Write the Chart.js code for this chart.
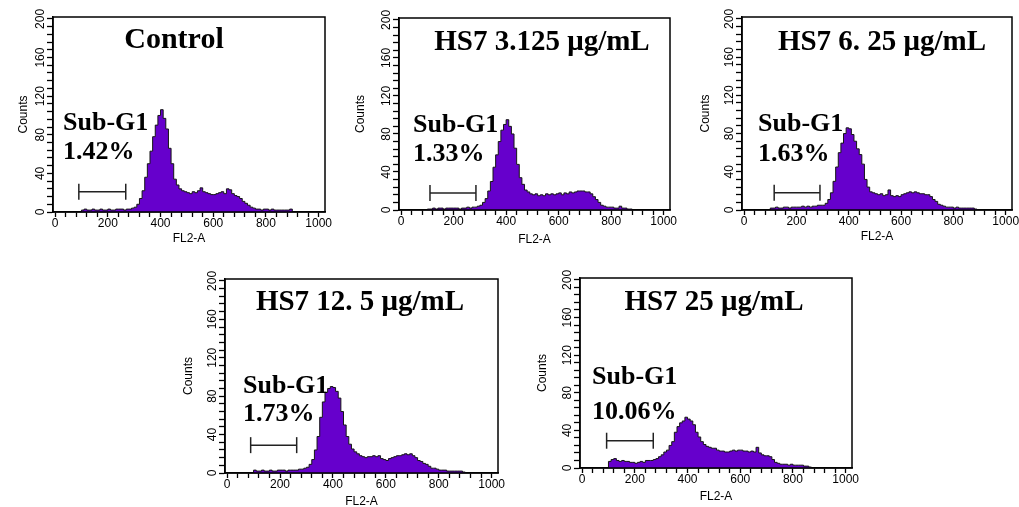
<!DOCTYPE html>
<html>
<head>
<meta charset="utf-8">
<script src="https://cdn.jsdelivr.net/npm/chart.js@4.4.1/dist/chart.umd.min.js"></script>
<style>
  html, body { margin: 0; padding: 0; background: #fff; }
  body { position: relative; width: 1019px; height: 507px; overflow: hidden; }
  canvas { position: absolute; }
  .label {
    position: absolute;
    font-family: "Liberation Serif", "Times New Roman", serif;
    font-weight: bold;
    color: #000;
    line-height: 1;
    white-space: nowrap;
  }
</style>
</head>
<body>
<script>
// FL2-A histogram bins: one bin per 10 channels, starting at 0
const binWidth = 10;

const controlCounts = [
  0, 0, 0, 0, 0, 0, 0, 0, 0, 0,
  2, 3, 2, 2, 3, 2, 2, 3, 2, 2,
  3, 2, 2, 3, 3, 3, 2, 3, 3, 4,
  5, 8, 14, 22, 36, 50, 63, 78, 90, 100,
  106, 97, 86, 66, 50, 34, 28, 24, 22, 21,
  20, 19, 21, 20, 22, 25, 21, 20, 19, 18,
  18, 19, 20, 21, 19, 24, 23, 19, 17, 16,
  14, 11, 9, 7, 5, 4, 3, 3, 2, 3,
  3, 2, 3, 2, 2, 2, 2, 2, 2, 3,
  0, 0, 0, 0, 0, 0, 0, 0, 0, 0,
  0, 0
];

const hs3125Counts = [
  0, 0, 0, 0, 0, 0, 0, 0, 0, 0,
  1, 1, 2, 1, 2, 2, 1, 2, 2, 2,
  2, 2, 1, 2, 2, 3, 2, 3, 3, 4,
  5, 8, 12, 20, 30, 45, 58, 72, 84, 90,
  95, 88, 80, 65, 48, 34, 27, 21, 19, 17,
  16, 17, 15, 16, 15, 17, 16, 17, 16, 17,
  18, 16, 18, 17, 19, 18, 19, 20, 20, 20,
  19, 19, 17, 14, 11, 8, 5, 4, 3, 3,
  3, 2, 2, 4, 2, 2, 1, 1, 0, 0,
  0, 0, 0, 0, 0, 0, 0, 0, 0, 0,
  0, 0
];

const hs625Counts = [
  0, 0, 0, 0, 0, 0, 0, 0, 0, 0,
  2, 2, 3, 2, 2, 3, 3, 2, 3, 3,
  3, 3, 4, 3, 4, 3, 4, 4, 5, 5,
  5, 7, 11, 18, 30, 45, 60, 70, 80, 86,
  85, 79, 72, 64, 58, 48, 32, 24, 19, 18,
  17, 16, 17, 15, 16, 21, 15, 14, 15, 14,
  16, 17, 18, 19, 18, 19, 18, 17, 17, 16,
  16, 14, 11, 9, 6, 5, 4, 3, 3, 3,
  2, 3, 2, 2, 2, 2, 2, 2, 1, 0,
  0, 0, 0, 0, 0, 0, 0, 0, 0, 0,
  0, 0
];

const hs125Counts = [
  0, 0, 0, 0, 0, 0, 0, 0, 0, 0,
  3, 2, 2, 3, 2, 2, 3, 2, 2, 3,
  3, 3, 2, 3, 3, 3, 3, 4, 4, 5,
  6, 9, 14, 24, 38, 58, 74, 84, 88, 90,
  89, 85, 78, 64, 50, 38, 30, 25, 22, 20,
  18, 17, 16, 17, 17, 18, 17, 18, 15, 14,
  13, 15, 16, 17, 18, 18, 19, 20, 19, 20,
  18, 16, 13, 12, 10, 9, 7, 5, 5, 4,
  3, 3, 3, 2, 2, 2, 2, 2, 2, 1,
  0, 0, 0, 0, 0, 0, 0, 0, 0, 0,
  0, 0
];

const hs25Counts = [
  0, 0, 0, 0, 0, 0, 0, 0, 0, 0,
  7, 9, 10, 8, 7, 8, 7, 7, 6, 6,
  5, 6, 7, 6, 8, 8, 8, 9, 10, 12,
  14, 17, 19, 24, 28, 38, 44, 48, 50, 54,
  52, 50, 46, 38, 33, 28, 25, 23, 22, 21,
  21, 19, 18, 18, 17, 17, 18, 19, 18, 19,
  19, 18, 18, 17, 18, 17, 22, 16, 14, 13,
  13, 12, 9, 6, 5, 4, 4, 4, 3, 4,
  3, 3, 3, 3, 2, 2, 1, 0, 0, 0,
  0, 0, 0, 0, 0, 0, 0, 0, 0, 0,
  0, 0
];

const panelCounts = [controlCounts, hs3125Counts, hs625Counts, hs125Counts, hs25Counts];
const panelTitles = ['Control', 'HS7 3.125 μg/mL', 'HS7 6. 25 μg/mL', 'HS7 12. 5 μg/mL', 'HS7 25 μg/mL'];
const subG1Percent = ['1.42%', '1.33%', '1.63%', '1.73%', '10.06%'];

// Sub-G1 gate marker (FL2-A range and height in counts)
const gateStart = [90, 110, 115, 89, 93];
const gateEnd = [268, 285, 290, 263, 270];
const gateLevel = [21, 18, 18, 29, 29];

const fl2Ticks = [0, 40, 80, 120, 160, 200, 240, 280, 320, 360, 400, 440, 480, 520, 560,
  600, 640, 680, 720, 760, 800, 840, 880, 920, 960, 1000];
const fl2Labels = [0, 200, 400, 600, 800, 1000];
const countTicks = [0, 8, 16, 24, 32, 40, 48, 56, 64, 72, 80, 88, 96, 104, 112, 120, 128,
  136, 144, 152, 160, 168, 176, 184, 192, 200];
const countLabels = [0, 40, 80, 120, 160, 200];

// page geometry: plot box [l, t, r, b], canvas [l, t, r, b], title [cx, baseline, size], sub label [x, baseline1, baseline2]
const layout = [
  { area: [53, 17, 325, 212], canvas: [16, 5, 345, 246], title: [174, 48, 30], sub: [63, 131, 160] },
  { area: [399, 18, 670, 210], canvas: [353, 6, 690, 247], title: [542, 50, 29], sub: [413, 133, 162] },
  { area: [742, 17, 1012, 210], canvas: [698, 5, 1032, 244], title: [882, 50, 29], sub: [758, 132, 162] },
  { area: [225, 279, 498, 473], canvas: [181, 267, 518, 509], title: [360, 310, 29], sub: [243, 394, 422] },
  { area: [580, 278, 852, 468], canvas: [535, 266, 872, 504], title: [714, 310, 29], sub: [592, 385, 420] }
];

const purple = '#6600cc';
const axisFont = { family: '"Liberation Sans", Arial, sans-serif', size: 12 };

// frame around the plot area (top and right sides are not axes)
const framePlugin = {
  id: 'frame',
  afterDraw(chart) {
    const { ctx, chartArea: a } = chart;
    ctx.save();
    ctx.strokeStyle = '#000';
    ctx.lineWidth = 1.5;
    ctx.strokeRect(a.left, a.top, a.right - a.left, a.bottom - a.top);
    ctx.restore();
  }
};

function addText(text, x, baseline, size, centered) {
  const el = document.createElement('div');
  el.className = 'label';
  el.textContent = text;
  el.style.fontSize = size + 'px';
  el.style.left = x + 'px';
  // Liberation Serif baseline sits at 0.8375em with line-height 1
  el.style.top = (baseline - 0.8375 * size) + 'px';
  if (centered) el.style.transform = 'translateX(-50%)';
  document.body.appendChild(el);
}

function buildPanel(i) {
  const p = layout[i];
  const [l, t, r, b] = p.area;
  const [cl, ct, cr, cb] = p.canvas;
  const yAxisWidth = l - cl;
  const xAxisHeight = cb - b;

  const canvas = document.createElement('canvas');
  canvas.width = cr - cl;
  canvas.height = cb - ct;
  canvas.style.left = cl + 'px';
  canvas.style.top = ct + 'px';
  document.body.appendChild(canvas);

  new Chart(canvas, {
    type: 'line',
    data: {
      datasets: [
        {
          data: panelCounts[i].map((c, k) => ({ x: k * binWidth, y: c })),
          stepped: 'before',
          fill: 'origin',
          backgroundColor: purple,
          borderColor: '#151515',
          borderWidth: 1,
          pointRadius: 0
        },
        {
          data: [{ x: gateStart[i], y: gateLevel[i] }, { x: gateEnd[i], y: gateLevel[i] }],
          fill: false,
          borderColor: '#222',
          borderWidth: 1.5,
          pointStyle: 'line',
          pointRotation: 90,
          pointRadius: 8,
          pointBorderWidth: 1.5,
          pointBorderColor: '#222'
        }
      ]
    },
    options: {
      responsive: false,
      animation: false,
      events: [],
      layout: { padding: { left: 0, top: t - ct, right: cr - r, bottom: 0 } },
      plugins: { legend: { display: false }, tooltip: { enabled: false } },
      scales: {
        x: {
          type: 'linear',
          min: -8,
          max: 1024,
          afterBuildTicks: s => { s.ticks = fl2Ticks.map(v => ({ value: v })); },
          afterFit: s => { s.height = xAxisHeight; s.paddingLeft = 0; s.paddingRight = 0; },
          ticks: {
            autoSkip: false,
            minRotation: 0,
            maxRotation: 0,
            padding: -1,
            color: '#000',
            font: axisFont,
            callback: v => fl2Labels.includes(v) ? String(v) : ''
          },
          grid: { drawOnChartArea: false, tickLength: 5, color: '#000', tickWidth: 1.3 },
          border: { display: true, color: '#000', width: 1.5 },
          title: { display: true, text: 'FL2-A', color: '#000', font: axisFont, padding: { top: 0, bottom: 0 } }
        },
        y: {
          min: 0,
          max: 202,
          afterBuildTicks: s => { s.ticks = countTicks.map(v => ({ value: v })); },
          afterFit: s => { s.width = yAxisWidth; s.paddingTop = 0; s.paddingBottom = 0; },
          ticks: {
            autoSkip: false,
            minRotation: 90,
            maxRotation: 90,
            crossAlign: 'center',
            padding: -4,
            color: '#000',
            font: axisFont,
            callback: v => countLabels.includes(v) ? String(v) : ''
          },
          grid: { drawOnChartArea: false, tickLength: 6, color: '#000', tickWidth: 1.3 },
          border: { display: true, color: '#000', width: 1.5 },
          title: { display: true, text: 'Counts', color: '#000', font: axisFont, padding: { top: 0, bottom: 0 } }
        }
      }
    },
    plugins: [framePlugin]
  });

  const [tx, tb, ts] = p.title;
  addText(panelTitles[i], tx, tb, ts, true);
  const [sx, sb1, sb2] = p.sub;
  addText('Sub-G1', sx, sb1, 26, false);
  addText(subG1Percent[i], sx, sb2, 26, false);
}

panelCounts.forEach((counts, i) => buildPanel(i));
</script>
</body>
</html>
